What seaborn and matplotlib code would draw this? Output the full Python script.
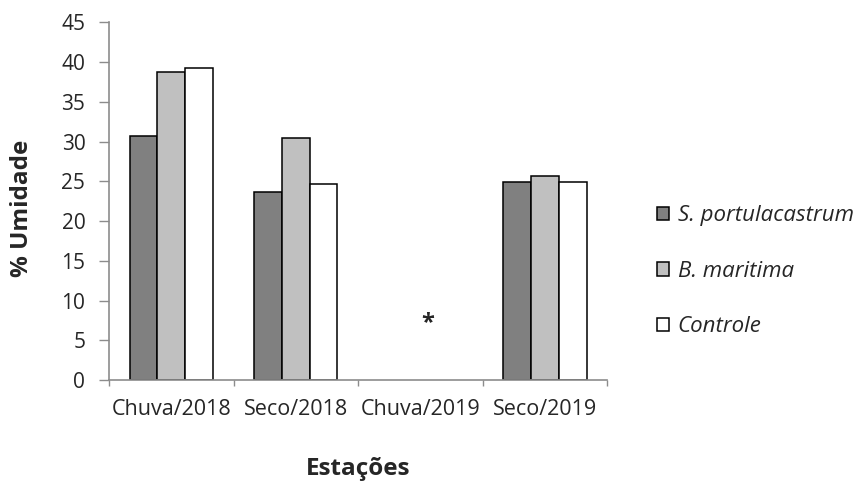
import matplotlib
matplotlib.use("Agg")
import matplotlib.pyplot as plt
import numpy as np
import pandas as pd
import seaborn as sns

# Soil moisture by season and treatment
estacoes = ["Chuva/2018", "Seco/2018", "Chuva/2019", "Seco/2019"]
tratamentos = ["S. portulacastrum", "B. maritima", "Controle"]
s_portulacastrum = [30.7, 23.7, np.nan, 24.9]
b_maritima = [38.8, 30.5, np.nan, 25.7]
controle = [39.3, 24.6, np.nan, 24.9]
cores = ["#808080", "#c0c0c0", "#ffffff"]
# Chuva/2019 had no samples: marked with an asterisk
marca_texto = "*"
marca_estacao = "Chuva/2019"
marca_y = 7.2

df = pd.DataFrame({
    "Estação": estacoes * 3,
    "Tratamento": np.repeat(tratamentos, len(estacoes)),
    "Umidade": s_portulacastrum + b_maritima + controle,
})

sns.set_theme(style="white")
plt.rcParams["font.family"] = ["Open Sans", "DejaVu Sans"]

fig = plt.figure(figsize=(8.54, 4.82), dpi=100)
ax = fig.add_axes([0.1276, 0.2116, 0.5835, 0.7421])

sns.barplot(data=df.dropna(), x="Estação", y="Umidade", hue="Tratamento",
            order=estacoes, hue_order=tratamentos, palette=cores,
            width=0.667, gap=0, edgecolor="black", linewidth=1.1,
            saturation=1, ax=ax, errorbar=None)

ax.text(estacoes.index(marca_estacao) + 0.06, marca_y, marca_texto,
        ha="center", va="center", fontsize=17, fontweight="bold")

ax.set_ylim(0, 45)
ax.set_xlim(-0.5, len(estacoes) - 0.5)
ax.set_yticks(np.arange(0, 46, 5))

spine_col = "#8c8c8c"
for s in ["top", "right"]:
    ax.spines[s].set_visible(False)
for s in ["left", "bottom"]:
    ax.spines[s].set_color(spine_col)
    ax.spines[s].set_linewidth(1.2)

ax.tick_params(axis="y", which="major", length=7, width=1.0, color=spine_col,
               direction="out", left=True, pad=10, labelsize=15)
ax.tick_params(axis="x", which="major", length=0, pad=14, labelsize=15.5)
ax.set_xticks(np.arange(-0.5, len(estacoes), 1.0), minor=True)
ax.tick_params(axis="x", which="minor", length=4.5, width=1.0, color=spine_col,
               direction="out", bottom=True)

ax.set_ylabel("% Umidade", fontsize=17.5, fontweight="bold")
ax.yaxis.set_label_coords(-0.15, 0.48)
ax.set_xlabel("Estações", fontsize=17.5, fontweight="bold")
ax.xaxis.set_label_coords(0.5, -0.215)

handles, labels = ax.get_legend_handles_labels()
ax.legend(handles, labels, loc="center left", bbox_to_anchor=(0.769, 0.437),
          bbox_transform=fig.transFigure, frameon=False,
          prop={"style": "italic", "size": 16}, handlelength=0.55,
          handleheight=0.55, handletextpad=0.4, labelspacing=1.55,
          borderaxespad=0, borderpad=0)

fig.savefig("out.png", dpi=100)
